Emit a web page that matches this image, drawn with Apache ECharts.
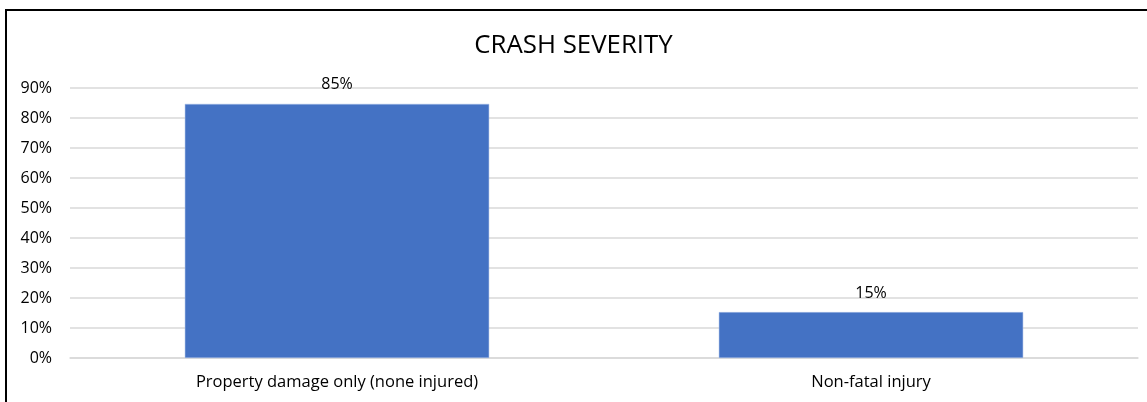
<!DOCTYPE html>
<html>
<head>
<meta charset="utf-8">
<script src="https://cdn.jsdelivr.net/npm/echarts@6/dist/echarts.min.js"></script>
<style>
html,body{margin:0;padding:0;background:#fff;}
#wrap{position:relative;width:1147px;height:402px;overflow:hidden;}
#frame{position:absolute;left:5px;top:9px;width:1200px;height:500px;border-left:2px solid #000;border-top:2px solid #000;box-sizing:border-box;}
#chart{position:absolute;left:0;top:0;width:1147px;height:402px;}
</style>
</head>
<body>
<div id="wrap"><div id="frame"></div><div id="chart"></div></div>
<script>
const categories = ["Property damage only (none injured)", "Non-fatal injury"];
const shares = [84.7, 15.3];
const yTicks = [0, 10, 20, 30, 40, 50, 60, 70, 80, 90];
const titleText = "CRASH SEVERITY";

const font = "'Open Sans', 'Noto Sans', sans-serif";
const chart = echarts.init(document.getElementById('chart'), null, {renderer: 'canvas'});
chart.setOption({
  animation: false,
  title: {
    text: titleText, left: 'center', top: 28,
    textStyle: {fontFamily: font, fontSize: 25.8, fontWeight: 'normal', color: '#000'}
  },
  grid: {left: 70, right: 9, top: 88, bottom: 44, containLabel: false},
  xAxis: {
    type: 'category', data: categories,
    axisLine: {show: true, lineStyle: {color: '#d9d9d9', width: 1.5}},
    axisTick: {show: false},
    axisLabel: {fontFamily: font, fontSize: 16.5, color: '#000', margin: 16}
  },
  yAxis: {
    type: 'value', min: yTicks[0], max: yTicks[yTicks.length - 1], interval: 10,
    axisLine: {show: false}, axisTick: {show: false},
    splitLine: {lineStyle: {color: '#d9d9d9', width: 1.5}},
    axisLabel: {fontFamily: font, fontSize: 16, color: '#000', margin: 18, formatter: v => v + '%'}
  },
  series: [{
    type: 'bar', data: shares, barWidth: '57%',
    itemStyle: {color: '#4472C4', borderColor: '#a9bfe6', borderWidth: 0.5},
    label: {show: true, position: 'top', distance: 11, fontFamily: font, fontSize: 16, color: '#000',
      formatter: p => Math.round(p.value) + '%'}
  }]
});
</script>
</body>
</html>
